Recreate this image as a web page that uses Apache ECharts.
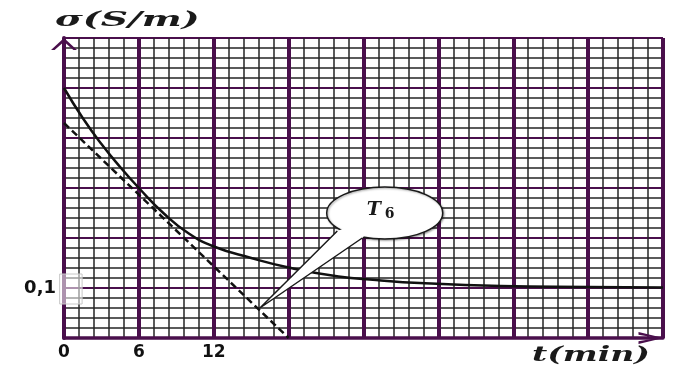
<!DOCTYPE html>
<html>
<head>
<meta charset="utf-8">
<script src="https://cdn.jsdelivr.net/npm/echarts@6/dist/echarts.min.js"></script>
<style>
  html, body { margin: 0; padding: 0; background: #fff; }
  #chart { width: 676px; height: 369px; }
</style>
</head>
<body>
<div id="chart"></div>
<script>
// conductivity sigma (S/m) against time t (min)
const timeMin = [0, 1.5, 3, 4.5, 6, 8, 10, 12, 15, 18, 22, 25, 28.5, 35, 42, 48];
const sigmaSm = [0.5, 0.44, 0.388, 0.342, 0.30, 0.249, 0.209, 0.183, 0.16, 0.141, 0.123, 0.116, 0.11, 0.104, 0.102, 0.101];

// tangent T6 (dashed)
const tangentTime = [0, 18];
const tangentSigma = [0.43, 0];

// only these ticks carry a label
const xLabelTicks = [0, 6, 12];
const yLabelTicks = [0.1];

// callout "T6", in data units
const bubbleCentre = [25.7, 0.25];
const tailBase = [[21.9, 0.214], [23.9, 0.2]];
const tailTip = [15.7, 0.06];

const PURPLE = '#4a0f4c';
const MINOR = '#262626';

const chart = echarts.init(document.getElementById('chart'));

const labelStyle = {
  color: '#111',
  fontFamily: 'DejaVu Sans',
  fontWeight: 'bold',
  fontSize: 17
};

chart.setOption({
  animation: false,
  backgroundColor: '#fff',
  grid: { left: 64, right: 13, top: 38, bottom: 31 },
  xAxis: {
    type: 'value',
    min: 0,
    max: 48,
    interval: 6,
    axisLine: {
      lineStyle: { color: PURPLE, width: 3.5 },
      symbol: ['none', 'path://M0,25L6,0L12,25L9.2,25L6,6L2.8,25Z'],
      symbolSize: [12, 25],
      symbolOffset: [0, -12]
    },
    axisTick: { show: false },
    axisLabel: {
      ...labelStyle,
      margin: 6,
      formatter: (v) => xLabelTicks.includes(v) ? String(v) : ''
    },
    splitLine: {
      show: true,
      showMinLine: false,
      showMaxLine: true,
      lineStyle: { color: PURPLE, width: 4 }
    },
    minorTick: { show: false, splitNumber: 5 },
    minorSplitLine: { show: true, lineStyle: { color: MINOR, width: 1.5 } }
  },
  yAxis: {
    type: 'value',
    min: 0,
    max: 0.6,
    interval: 0.1,
    axisLine: {
      show: true,
      lineStyle: { color: PURPLE, width: 4 },
      symbol: ['none', 'path://M0,12L13,0L26,12L22.4,12L13,3.8L3.6,12Z'],
      symbolSize: [26, 12],
      symbolOffset: [0, -6]
    },
    axisTick: { show: false },
    axisLabel: {
      ...labelStyle,
      fontSize: 18,
      margin: 8,
      formatter: (v) => yLabelTicks.some((t) => Math.abs(t - v) < 1e-9) ?
        String(v).replace('.', ',') : ''
    },
    splitLine: {
      show: true,
      showMinLine: false,
      showMaxLine: true,
      lineStyle: { color: PURPLE, width: 2.2 }
    },
    minorTick: { show: false, splitNumber: 5 },
    minorSplitLine: { show: true, lineStyle: { color: MINOR, width: 1.5 } }
  },
  series: [
    {
      name: 'sigma',
      type: 'line',
      smooth: 0.5,
      symbol: 'none',
      data: timeMin.map((t, i) => [t, sigmaSm[i]]),
      lineStyle: { color: '#111', width: 2.5 },
      z: 5
    },
    {
      name: 'T6',
      type: 'line',
      symbol: 'none',
      data: tangentTime.map((t, i) => [t, tangentSigma[i]]),
      lineStyle: { color: '#111', width: 2.5, type: [7, 4] },
      z: 5
    }
  ]
});

// annotations placed from data coordinates
const toPx = (p) => chart.convertToPixel({ gridIndex: 0 }, p);
const c = toPx(bubbleCentre);
const b0 = toPx(tailBase[0]);
const b1 = toPx(tailBase[1]);
const tip = toPx(tailTip);
const boxA = toPx([-0.35, 0.128]);
const boxB = toPx([1.45, 0.068]);

chart.setOption({
  graphic: [
    {
      type: 'rect',
      z: 50,
      shape: { x: boxA[0], y: boxA[1], width: boxB[0] - boxA[0], height: boxB[1] - boxA[1] },
      style: { fill: 'rgba(255,255,255,0.55)', stroke: '#c8c8c8', lineWidth: 1 }
    },
    {
      type: 'ellipse',
      z: 100,
      shape: { cx: c[0], cy: c[1], rx: 58, ry: 26 },
      style: {
        fill: '#fff', stroke: '#1a1a1a', lineWidth: 1.5,
        shadowColor: 'rgba(0,0,0,0.35)', shadowBlur: 2, shadowOffsetX: 1, shadowOffsetY: 1
      }
    },
    {
      type: 'polygon',
      z: 101,
      shape: { points: [b0, tip, b1, c] },
      style: { fill: '#fff' }
    },
    {
      type: 'polyline',
      z: 102,
      shape: { points: [b0, tip, b1] },
      style: { fill: null, stroke: '#1a1a1a', lineWidth: 1.5 }
    },
    {
      type: 'text',
      z: 103,
      x: c[0] - 18,
      y: c[1] - 14,
      style: {
        text: '{t|T}{s|6}',
        rich: {
          t: { font: 'italic bold 19px "DejaVu Serif"', fill: '#1a1a1a' },
          s: { font: 'bold 14px "DejaVu Serif"', fill: '#1a1a1a', padding: [8, 0, 0, 4] }
        }
      }
    },
    {
      type: 'text',
      z: 103,
      x: 55,
      y: 10,
      scaleX: 1.8,
      style: { text: 'σ(S/m)', font: 'italic bold 21px "DejaVu Serif"', fill: '#1a1a1a' }
    },
    {
      type: 'text',
      z: 103,
      x: 532,
      y: 346,
      scaleX: 1.65,
      style: { text: 't(min)', font: 'italic bold 20px "DejaVu Serif"', fill: '#1a1a1a' }
    }
  ]
});
</script>
</body>
</html>
